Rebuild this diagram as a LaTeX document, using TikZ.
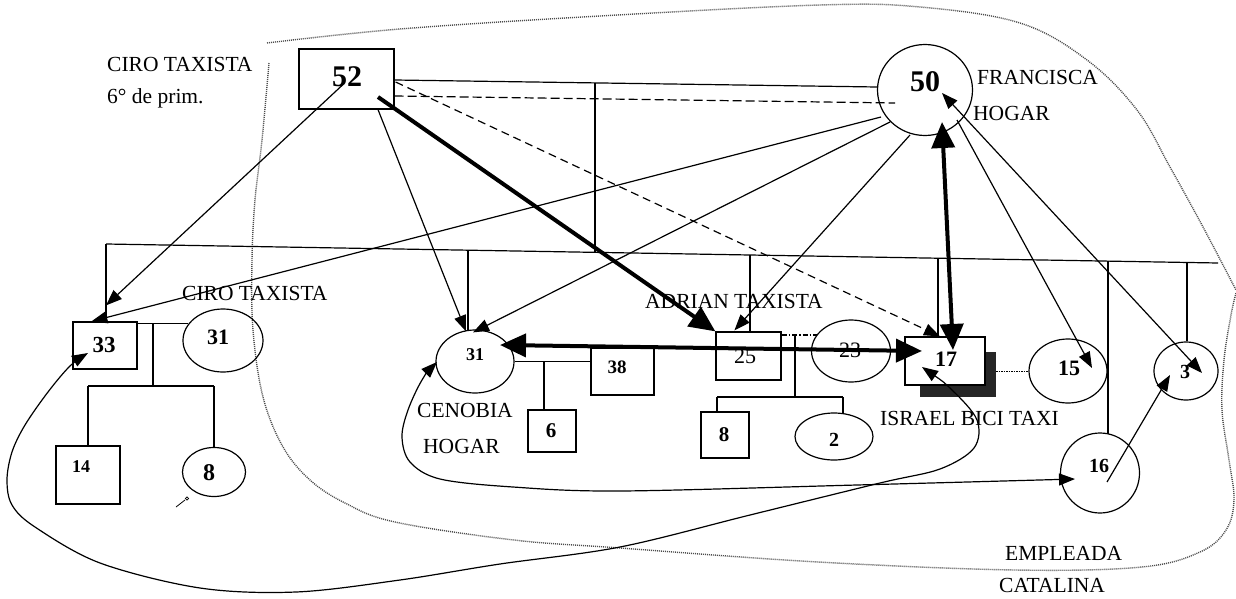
\documentclass[tikz,border=0pt]{standalone}
\usepackage{fontspec}
\setmainfont{Liberation Serif}
\usetikzlibrary{arrows.meta,calc,shapes.geometric}
\begin{document}
\begin{tikzpicture}[x=1pt,y=-1pt,
  ln/.style={line width=1.2pt},
  box/.style={draw,line width=1.2pt,rectangle,inner sep=0pt},
  ell/.style={draw,line width=1.2pt,ellipse,inner sep=0pt},
  num/.style={font=\bfseries\fontsize{#1}{#1}\selectfont,inner sep=0pt},
  rnum/.style={font=\fontsize{#1}{#1}\selectfont,inner sep=0pt},
  lbl/.style={font=\fontsize{21.5}{21.5}\selectfont,inner sep=0pt,anchor=base west},
  arr/.style={ln,-{Triangle[length=16pt,width=12pt]}},
  darr/.style={ln,{Triangle[length=16pt,width=12pt]}-{Triangle[length=16pt,width=12pt]}},
  thk/.style={line width=4pt,-{Triangle[length=26pt,width=23pt]}},
  dthk/.style={line width=4pt,{Triangle[length=26pt,width=23pt]}-{Triangle[length=26pt,width=23pt]}},
  bnd/.style={line width=1.4pt,black!70,dash pattern=on 1pt off 1pt},
]
\useasboundingbox (0,0) rectangle (1236,599);
\fill[white] (0,0) rectangle (1236,599);

% dotted boundaries
\draw[bnd] plot[smooth,tension=0.6] coordinates {(267,43) (400,29) (600,16) (820,5) (920,7) (1020,23) (1087,60) (1137,110) (1170,167) (1203,227) (1236,290)};
\draw[bnd] plot[smooth,tension=0.6] coordinates {(269,63) (262,140) (255,200) (252,260) (253,330) (263,397) (283,447) (310,480) (345,503) (395,522) (514,540) (620,548) (818,562) (1015,570) (1142,567) (1200,552) (1226,530) (1234,500) (1229,460) (1222,410) (1224,360) (1231,315) (1236,293)};

% nodes (shapes)
\node[box,minimum width=95pt,minimum height=60pt] (n52) at (346.5,79) {};
\node[ell,minimum width=95pt,minimum height=91pt] (n50) at (925,90) {};
\node[box,minimum width=64pt,minimum height=47pt] (n33) at (105,345.5) {};
\node[ell,minimum width=80pt,minimum height=63pt] (nL31) at (223,340.5) {};
\node[box,minimum width=64pt,minimum height=58pt] (n14) at (88,475) {};
\node[ell,minimum width=63pt,minimum height=49pt] (nL8) at (214,472) {};
\node[ell,minimum width=78pt,minimum height=63pt] (nC31) at (475,361.5) {};
\node[box,minimum width=63pt,minimum height=47pt] (n38) at (622.5,371.5) {};
\node[box,minimum width=48pt,minimum height=42pt] (n6) at (552,431) {};
\node[box,minimum width=65pt,minimum height=48pt] (n25) at (748.5,356) {};
\node[ell,minimum width=79pt,minimum height=62pt] (n23) at (851,351) {};
\node[box,minimum width=48pt,minimum height=46pt] (n8) at (725,435) {};
\node[ell,minimum width=78pt,minimum height=47pt] (n2) at (834,436.5) {};
\node[fill=black!85,inner sep=0pt,minimum width=76pt,minimum height=45pt] (s17) at (958,374.5) {};
\node[box,fill=white,minimum width=80pt,minimum height=48pt] (n17) at (945,361) {};
\node[ell,minimum width=78pt,minimum height=64pt] (n15) at (1068,371) {};
\node[ell,minimum width=64pt,minimum height=58pt] (n3) at (1186,371) {};
\node[ell,minimum width=79pt,minimum height=80pt] (n16) at (1100,473) {};

% numbers
\node[num=30] (t52) at (347,77) {52};
\node[num=30] (t50) at (925,82) {50};
\node[num=23] (t33) at (104,345) {33};
\node[num=22] (tL31) at (218,337) {31};
\node[num=18] (t14) at (81,467) {14};
\node[num=24] (tL8) at (209,473) {8};
\node[num=18] (tC31) at (475,355) {31};
\node[num=19] (t38) at (617,367) {38};
\node[num=21] (t6) at (551,431) {6};
\node[rnum=22] (t25) at (745,356) {25};
\node[rnum=22] (t23) at (850,350) {23};
\node[num=21] (t8) at (724,435) {8};
\node[num=20] (t2) at (834,440) {2};
\node[num=22] (t17) at (946,359) {17};
\node[num=22] (t15) at (1069,368) {15};
\node[num=20] (t3) at (1185,372) {3};
\node[num=20] (t16) at (1099,466) {16};

% labels
\node[lbl] (lciro) at (107,72) {CIRO TAXISTA};
\node[lbl] (lprim) at (107,104) {6° de prim.};
\node[lbl] (lfran) at (977,85) {FRANCISCA};
\node[lbl] (lhog1) at (973,121) {HOGAR};
\node[lbl] (lciro2) at (182,300) {CIRO TAXISTA};
\node[lbl] (ladr) at (645,308) {ADRIAN TAXISTA};
\node[lbl] (lcen) at (417,417) {CENOBIA};
\node[lbl] (lhog2) at (423,453) {HOGAR};
\node[lbl] (lisr) at (880,425) {ISRAEL BICI TAXI};
\node[lbl] (lemp) at (1005,560) {EMPLEADA};
\node[lbl] (lcat) at (999,592) {CATALINA};

% couple 52-50
\draw[ln] ($(n52.east)+(0,1)$) -- ($(n50.west)+(0,-3)$);
\draw[ln,dash pattern=on 9pt off 4pt] ($(n52.east)+(0,17)$) -- ($(n50.center)+(-30,13)$);
\coordinate (m5250) at (595,83);
\coordinate (sibL) at (106,244);
\coordinate (sibR) at (1218,263);
\draw[ln] (m5250) -- (595,252.4);
\draw[ln] (sibL) -- (sibR);
% drops to children
\draw[ln] (sibL) -- (sibL |- n33.north);
\coordinate (d31) at (468,250.2);
\draw[ln] (d31) -- (468,330.5);
\coordinate (d25) at (750,255);
\draw[ln] (d25) -- (d25 |- n25.north);
\coordinate (d17) at (938,258.2);
\draw[ln] (d17) -- (d17 |- n17.north);
\coordinate (d16) at (1108,261.1);
\draw[ln] (d16) -- (1108,433.8);
\coordinate (d3) at (1187,262.5);
\draw[ln] (d3) -- (d3 |- n3.north);

% family 33-31
\draw[ln] (n33.north east |- nL31.154) -- (nL31.154);
\coordinate (j33) at (153,324);
\coordinate (k33) at (153,386);
\draw[ln] (j33) -- (k33);
\draw[ln] (n14.north |- k33) -- (nL8.north |- k33);
\draw[ln] (n14.north |- k33) -- (n14.north);
\draw[ln] (nL8.north |- k33) -- (nL8.north);
\draw[line width=0.8pt] (176,507) -- (185,500);
\draw[line width=0.7pt] (187,498.5) circle (1.6pt);

% family 31-38
\draw[ln] (nC31.east) -- (nC31.east -| n38.west);
\coordinate (j38) at (544,361.5);
\draw[ln] (j38) -- (j38 |- n6.north);

% family 25-23
\draw[ln,dash pattern=on 5pt off 2pt on 1.5pt off 2pt] (n25.north east |- n23.155) -- (n23.155);
\coordinate (j25) at (795,335.5);
\coordinate (k25) at (795,397);
\draw[ln] (j25) -- (k25);
\coordinate (k8) at (717,397);
\coordinate (k2) at (843,397);
\draw[ln] (k8) -- (k2);
\draw[ln] (k8) -- (k8 |- n8.north);
\draw[ln] (k2) -- (843,414);

% couple 17-15
\draw[line width=0.9pt,dash pattern=on 1.5pt off 1pt] (n15.west -| s17.east) -- (n15.west);

% thin arrows
\draw[arr] ($(n52.center)+(-4,6)$) -- ($(n33.north)+(1,-16)$);
\draw[arr] ($(n50.center)+(-44,27)$) -- ($(n33.north west)+(19,0)$);
\draw[arr] ($(n52.south)+(31.5,0)$) -- ($(nC31.north)+(-9,2)$);
\draw[arr] ($(n50.center)+(-35,32)$) -- ($(nC31.north)+(-2,3)$);
\draw[arr] ($(n50.center)+(-15,45)$) -- ($(n25.north west)+(19,-1)$);
\draw[arr,dash pattern=on 8pt off 5pt] ($(n52.east)+(1,3)$) -- ($(n17.north)+(-5,0)$);
\draw[arr] ($(n50.center)+(32,30)$) -- ($(n15.center)+(24,-3)$);
\draw[darr] ($(n50.center)+(17,3)$) -- ($(n3.center)+(16,2)$);
\draw[arr] ($(n16.center)+(7,9)$) -- ($(n3.center)+(-16,4)$);

% thick arrows
\draw[thk] ($(n52.center)+(31.5,18)$) -- (n25.north west);
\draw[dthk] ($(n50.center)+(17,32)$) -- ($(n17.center)+(8,-11)$);
\draw[dthk] ($(nC31.center)+(25,-16.5)$) -- ($(n17.center)+(-23,-10)$);

% curves
\coordinate (c17) at ($(n17.center)+(-23,6)$);
\coordinate (c33) at ($(n33.center)+(-17,7.5)$);
\draw[darr] plot[smooth,tension=0.55] coordinates {(c17) (952,390) (977,420) (974,448) (940,469) (880,483) (750,515) (620,547) (500,564) (400,580) (296,592) (200,588) (100,563) (35,527) (12,505) (7,480) (12,452) (25,425) (48,392) (70,366) (c33)};
\coordinate (c31) at ($(nC31.center)+(-38,0.5)$);
\coordinate (c16) at ($(n16.center)+(-25,6)$);
\draw[darr] plot[smooth,tension=0.55] coordinates {(c31) (422,380) (408,410) (402,437) (410,462) (440,479) (513,487) (620,491) (857,485) (c16)};
\end{tikzpicture}
\end{document}
